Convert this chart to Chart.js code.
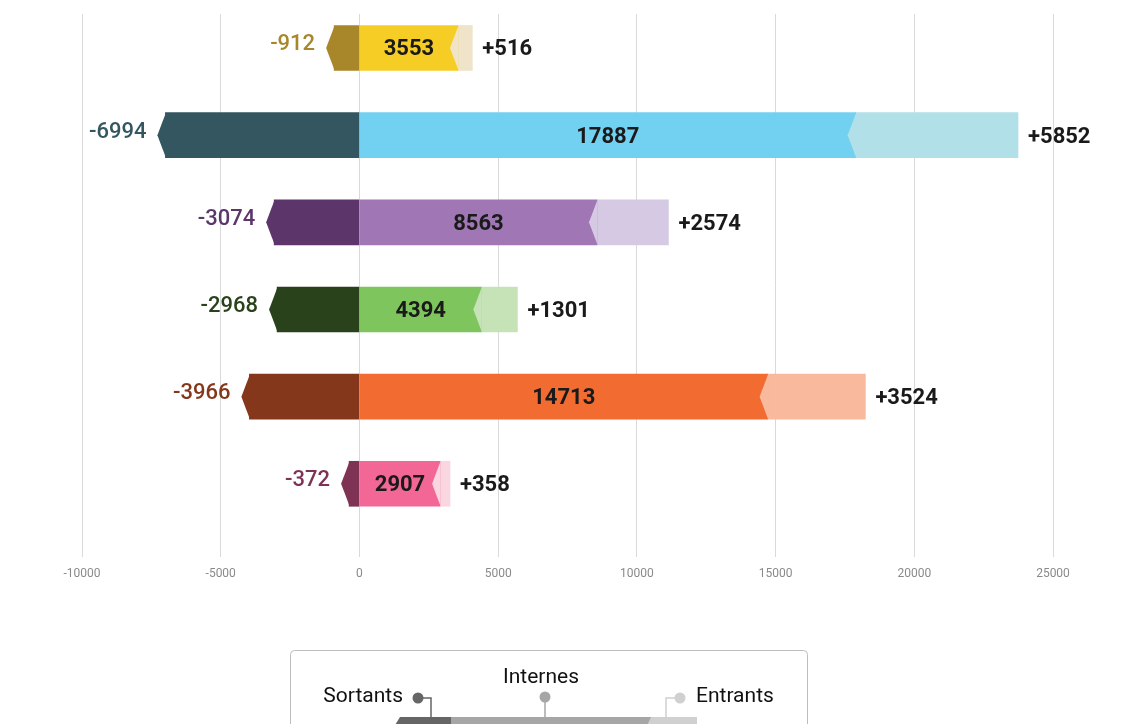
<!DOCTYPE html>
<html>
<head>
<meta charset="utf-8">
<script src="https://cdn.jsdelivr.net/npm/chart.js@4"></script>
<style>
  html, body { margin: 0; padding: 0; background: #fff; }
  #wrap { width: 1145px; height: 724px; }
</style>
</head>
<body>
<div id="wrap"><canvas id="chart" width="1145" height="724"></canvas></div>
<script>
// rows, top to bottom
const rows = [0, 1, 2, 3, 4, 5];
const sortants = [912, 6994, 3074, 2968, 3966, 372];
const internes = [3553, 17887, 8563, 4394, 14713, 2907];
const entrants = [516, 5852, 2574, 1301, 3524, 358];

const sortantsColors = ['#A8872A', '#335660', '#5C356B', '#2A421C', '#84371A', '#7E3355'];
const internesColors = ['#F6CD25', '#72D0F0', '#A077B4', '#7DC55C', '#F26B30', '#F36796'];
const entrantsColors = ['#EFE4C9', '#B2E0E8', '#D6C9E3', '#C5E3B7', '#F9B99C', '#FAD6E1'];

const legendLabels = ['Sortants', 'Internes', 'Entrants'];

const TIP = 8;

// arrow tips + value labels
const arrowsAndLabels = {
  id: 'arrowsAndLabels',
  afterDatasetsDraw(chart) {
    const ctx = chart.ctx;
    const drawTip = (bar, color) => {
      const { x, y, base, height } = bar.getProps(['x', 'y', 'base', 'height'], true);
      const left = Math.min(x, base);
      ctx.fillStyle = color;
      ctx.beginPath();
      ctx.moveTo(left + 0.5, y - height / 2);
      ctx.lineTo(left - TIP, y);
      ctx.lineTo(left + 0.5, y + height / 2);
      ctx.closePath();
      ctx.fill();
    };
    ctx.save();
    chart.getDatasetMeta(0).data.forEach((bar, i) => drawTip(bar, sortantsColors[i]));
    chart.getDatasetMeta(2).data.forEach((bar, i) => drawTip(bar, entrantsColors[i]));

    ctx.textBaseline = 'middle';
    ctx.font = '500 22px Roboto';
    chart.getDatasetMeta(0).data.forEach((bar, i) => {
      const { x, y, base } = bar.getProps(['x', 'y', 'base'], true);
      ctx.fillStyle = sortantsColors[i];
      ctx.textAlign = 'right';
      ctx.fillText('-' + sortants[i], Math.min(x, base) - 19, y - 3);
    });
    ctx.font = 'bold 22px Roboto';
    chart.getDatasetMeta(1).data.forEach((bar, i) => {
      const { x, y, base } = bar.getProps(['x', 'y', 'base'], true);
      ctx.fillStyle = '#1a1a1a';
      ctx.textAlign = 'center';
      ctx.fillText(String(internes[i]), (x + base) / 2, y + 2);
    });
    chart.getDatasetMeta(2).data.forEach((bar, i) => {
      const { x, y, base } = bar.getProps(['x', 'y', 'base'], true);
      ctx.fillStyle = '#1a1a1a';
      ctx.textAlign = 'left';
      ctx.fillText('+' + entrants[i], Math.max(x, base) + 10, y + 2);
    });
    ctx.restore();
  }
};

// the boxed legend under the axis
const legendBox = {
  id: 'legendBox',
  afterDraw(chart) {
    const ctx = chart.ctx;
    ctx.save();
    ctx.strokeStyle = '#bdbdbd';
    ctx.lineWidth = 1;
    ctx.beginPath();
    ctx.roundRect(290.5, 650.5, 517, 120, 4);
    ctx.stroke();

    // little bar
    ctx.fillStyle = '#666666';
    ctx.beginPath();
    ctx.moveTo(400, 717); ctx.lineTo(452, 717); ctx.lineTo(452, 730); ctx.lineTo(392, 730);
    ctx.closePath(); ctx.fill();
    ctx.fillStyle = '#a6a6a6';
    ctx.fillRect(451, 717, 200, 13);
    ctx.fillStyle = '#d0d0d0';
    ctx.beginPath();
    ctx.moveTo(651, 717); ctx.lineTo(697, 717); ctx.lineTo(697, 730); ctx.lineTo(645, 730);
    ctx.closePath(); ctx.fill();

    // connectors
    ctx.lineWidth = 1.5;
    ctx.strokeStyle = '#666666';
    ctx.beginPath(); ctx.moveTo(418, 698); ctx.lineTo(431, 698); ctx.lineTo(431, 717); ctx.stroke();
    ctx.strokeStyle = '#a6a6a6';
    ctx.beginPath(); ctx.moveTo(545, 697); ctx.lineTo(545, 717); ctx.stroke();
    ctx.strokeStyle = '#d0d0d0';
    ctx.beginPath(); ctx.moveTo(680, 698); ctx.lineTo(666, 698); ctx.lineTo(666, 717); ctx.stroke();

    const dot = (x, y, c) => {
      ctx.fillStyle = c;
      ctx.beginPath(); ctx.arc(x, y, 5.5, 0, Math.PI * 2); ctx.fill();
    };
    dot(418, 698, '#666666');
    dot(545, 697, '#a6a6a6');
    dot(680, 698, '#d0d0d0');

    ctx.fillStyle = '#111';
    ctx.font = '21px Roboto';
    ctx.textBaseline = 'middle';
    ctx.textAlign = 'right';
    ctx.fillText(legendLabels[0], 403, 697);
    ctx.textAlign = 'center';
    ctx.fillText(legendLabels[1], 541, 678);
    ctx.textAlign = 'left';
    ctx.fillText(legendLabels[2], 696, 697);
    ctx.restore();
  }
};

new Chart(document.getElementById('chart'), {
  type: 'bar',
  data: {
    datasets: [
      {
        label: legendLabels[0],
        data: rows.map((r, i) => ({ y: r, x: [-sortants[i], 0] })),
        backgroundColor: sortantsColors,
      },
      {
        label: legendLabels[1],
        data: rows.map((r, i) => ({ y: r, x: [0, internes[i]] })),
        backgroundColor: internesColors,
      },
      {
        label: legendLabels[2],
        data: rows.map((r, i) => ({ y: r, x: [internes[i], internes[i] + entrants[i]] })),
        backgroundColor: entrantsColors,
      },
    ],
  },
  options: {
    indexAxis: 'y',
    responsive: false,
    animation: false,
    grouped: false,
    barThickness: 45,
    borderSkipped: false,
    layout: { padding: { left: 82, right: 92, top: 14, bottom: 132.6 } },
    plugins: { legend: { display: false }, tooltip: { enabled: false } },
    scales: {
      x: {
        type: 'linear',
        min: -10000,
        max: 25000,
        ticks: {
          stepSize: 5000,
          padding: 10,
          color: '#8a8a8a',
          font: { family: 'Roboto', size: 12 },
          callback: v => String(v),
        },
        grid: { color: '#d9d9d9', drawTicks: false },
        border: { display: false },
      },
      y: {
        type: 'linear',
        reverse: true,
        offset: false,
        min: -0.39,
        max: 5.84,
        display: false,
      },
    },
  },
  plugins: [arrowsAndLabels, legendBox],
});
</script>
</body>
</html>
